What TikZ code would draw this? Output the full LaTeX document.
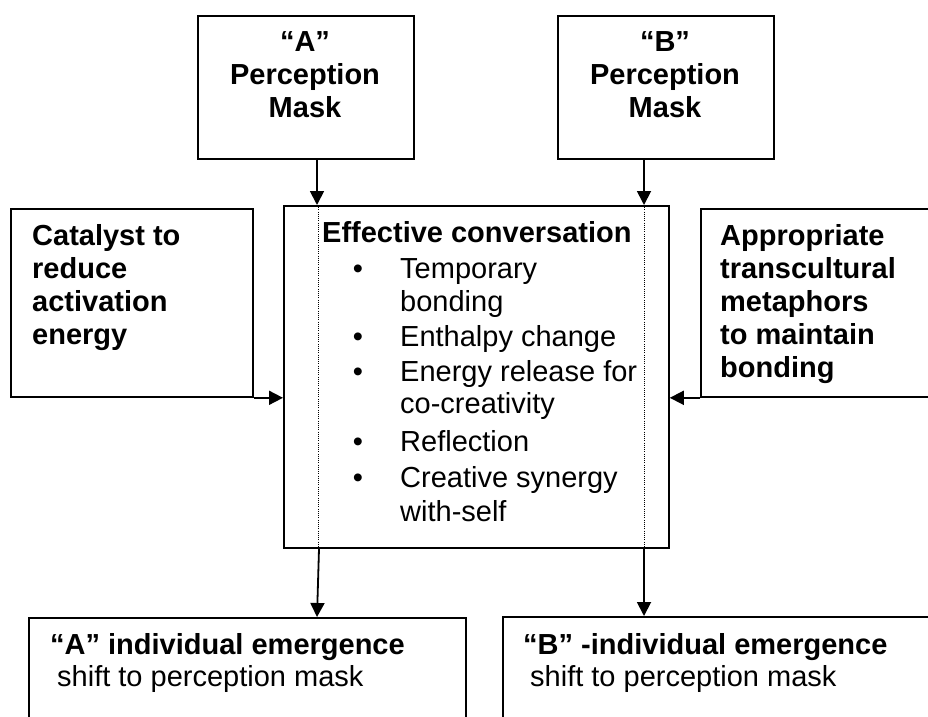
\documentclass[tikz,border=0pt]{standalone}
\usepackage{fontspec}
\setmainfont{Liberation Sans}
\usetikzlibrary{arrows.meta}
\begin{document}
\begin{tikzpicture}[x=1pt,y=-1pt,
  box/.style={draw=black, line width=1.8pt, inner sep=0pt, anchor=north west},
  txt/.style={inner sep=0pt, font=\fontsize{29}{33}\selectfont\bfseries, align=left, anchor=north west},
  ctxt/.style={inner sep=0pt, font=\fontsize{29}{33}\selectfont\bfseries, align=center},
  ln/.style={inner sep=0pt, font=\fontsize{29}{33}\selectfont, anchor=base west},
  bln/.style={ln, font=\fontsize{29}{33}\selectfont\bfseries},
  bul/.style={inner sep=0pt, font=\fontsize{29}{33}\selectfont, anchor=base},
  arr/.style={line width=1.8pt, -{Triangle[width=14pt,length=14pt]}},
  dotline/.style={line width=0.9pt, dash pattern=on 0.9pt off 1.3pt}]
\fill[white] (0,0) rectangle (928,716);
\clip (0,0) rectangle (928,716);

% boxes
\node[box, minimum width=216pt, minimum height=143pt] (amask) at (197,15) {};
\node[box, minimum width=216pt, minimum height=143pt] (bmask) at (557,15) {};
\node[box, minimum width=242pt, minimum height=188pt] (lbox) at (10,208) {};
\node[box, minimum width=250pt, minimum height=188pt] (rbox) at (700,208) {};
\node[box, minimum width=385pt, minimum height=342pt] (cbox) at (283,205) {};
\node[box, minimum width=437pt, minimum height=130pt] (abot) at (28,617) {};
\node[box, minimum width=440pt, minimum height=130pt] (bbot) at (502,616) {};

% texts
\node[ctxt] (atext) at (305,75) {“A”\\Perception\\Mask};
\node[ctxt] (btext) at (665,75) {“B”\\Perception\\Mask};
\node[txt] (ltext) at (32,224) {Catalyst to\\reduce\\activation\\energy};
\node[txt] (rtext) at (720,224) {Appropriate\\transcultural\\metaphors\\to maintain\\bonding};

\node[bln] (title) at (322,242) {Effective conversation};
\node[bul] (b1) at (358,278) {•};
\node[ln] (i1a) at (400,278) {Temporary};
\node[ln] (i1b) at (400,311) {bonding};
\node[bul] (b2) at (358,346) {•};
\node[ln] (i2) at (400,346) {Enthalpy change};
\node[bul] (b3) at (358,381) {•};
\node[ln] (i3a) at (400,381) {Energy release for};
\node[ln] (i3b) at (400,413) {co-creativity};
\node[bul] (b4) at (358,451) {•};
\node[ln] (i4) at (400,451) {Reflection};
\node[bul] (b5) at (358,487) {•};
\node[ln] (i5a) at (400,487) {Creative synergy};
\node[ln] (i5b) at (400,521) {with-self};

\node[bln] (atitle) at (50,654) {“A” individual emergence};
\node[ln] (ashift) at (57,686) {shift to perception mask};
\node[bln] (btitle) at (523,654) {“B” -individual emergence};
\node[ln] (bshift) at (530,686) {shift to perception mask};

% guides
\coordinate (ax) at (317,0);
\coordinate (ax2) at (319,0);
\coordinate (bx) at (644,0);
\coordinate (dl) at (318,0);
\coordinate (dr) at (644,0);

% dotted lines
\draw[dotline] (cbox.north -| dl) -- (cbox.south -| dl);
\draw[dotline] (cbox.north -| dr) -- (cbox.south -| dr);

% arrows
\draw[arr] (amask.south -| ax) -- (cbox.north -| ax);
\draw[arr] (bmask.south -| bx) -- (cbox.north -| bx);
\draw[arr] (lbox.south east) -- (lbox.south east -| cbox.west);
\draw[arr] (rbox.south west) -- (rbox.south west -| cbox.east);
\draw[arr] (cbox.south -| ax2) -- (abot.north -| ax);
\draw[arr] (cbox.south -| bx) -- (bbot.north -| bx);
\end{tikzpicture}
\end{document}
